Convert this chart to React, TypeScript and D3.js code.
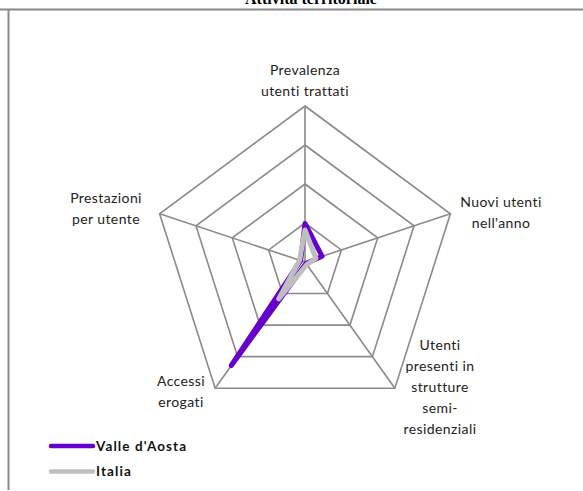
import React from "react";
import * as d3 from "d3";

const axes: string[][] = [
  ["Prevalenza", "utenti trattati"],
  ["Nuovi utenti", "nell'anno"],
  ["Utenti", "presenti in", "strutture", "semi-", "residenziali"],
  ["Accessi", "erogati"],
  ["Prestazioni", "per utente"],
];
const valleValues = [0.99, 0.47, 0.05, 3.28, 0.12];
const italiaValues = [0.82, 0.3, 0.08, 1.17, 0.15];
const seriesNames = ["Valle d'Aosta", "Italia"];
const gridLevels = [1, 2, 3, 4];
const title = "Attività territoriale";

const W = 583;
const H = 491;
const cx = 305;
const cy = 262;
const R = 156;
const kx = 0.98;

// label anchor centres (x) and first baseline (y)
const labelPos: [number, number][] = [
  [305, 75],
  [501, 207],
  [440, 350],
  [181, 386],
  [106, 203],
];

export default function App() {
  const r = d3.scaleLinear().domain([0, 4]).range([0, R]);
  const angle = d3
    .scaleLinear()
    .domain([0, axes.length])
    .range([0, 2 * Math.PI]);
  const pt = (i: number, v: number): [number, number] => {
    const a = angle(i);
    return [cx + r(v) * Math.sin(a) * kx, cy - r(v) * Math.cos(a)];
  };
  const closed = d3.line().curve(d3.curveLinearClosed);

  const gridColor = "#8a8a8a";
  const font = "Lato, 'Open Sans', sans-serif";

  return (
    <svg
      width={W}
      height={H}
      style={{ position: "absolute", left: 0, top: 0, background: "#fff" }}
    >
      <text
        x={311}
        y={4}
        textAnchor="middle"
        fontFamily="'Liberation Serif', 'Times New Roman', serif"
        fontWeight="bold"
        fontSize={16}
        fill="#000"
      >
        {title}
      </text>
      <line x1={0} x2={W} y1={9.5} y2={9.5} stroke="#888" strokeWidth={2} />
      <line x1={8.5} x2={8.5} y1={9} y2={490} stroke="#888" strokeWidth={2} />

      {gridLevels.map((lv) => (
        <path
          key={lv}
          d={closed(axes.map((_, i) => pt(i, lv))) || ""}
          fill="none"
          stroke={gridColor}
          strokeWidth={1.6}
        />
      ))}
      {axes.map((_, i) => {
        const [x, y] = pt(i, 4);
        return (
          <line
            key={i}
            x1={cx}
            y1={cy}
            x2={x}
            y2={y}
            stroke={gridColor}
            strokeWidth={1.6}
          />
        );
      })}

      <path
        d={closed(valleValues.map((v, i) => pt(i, v))) || ""}
        fill="none"
        stroke="#6600CC"
        strokeWidth={5}
        strokeLinejoin="round"
        strokeLinecap="round"
      />
      <path
        d={closed(italiaValues.map((v, i) => pt(i, v))) || ""}
        fill="none"
        stroke="#BFBFBF"
        strokeWidth={5}
        strokeLinejoin="round"
        strokeLinecap="round"
      />

      {axes.map((lines, i) => (
        <text
          key={i}
          x={labelPos[i][0]}
          y={labelPos[i][1]}
          textAnchor="middle"
          fontFamily={font}
          fontSize={14}
          letterSpacing={0.4}
          fill="#222"
        >
          {lines.map((l, j) => (
            <tspan key={j} x={labelPos[i][0]} dy={j === 0 ? 0 : 21}>
              {l}
            </tspan>
          ))}
        </text>
      ))}

      {seriesNames.map((name, i) => (
        <g key={name} transform={`translate(0, ${446 + i * 25.5})`}>
          <line
            x1={51}
            x2={93}
            y1={0}
            y2={0}
            stroke={i === 0 ? "#6600CC" : "#BFBFBF"}
            strokeWidth={4.5}
            strokeLinecap="round"
          />
          <text
            x={96}
            y={4.5}
            fontFamily={font}
            fontWeight="bold"
            fontSize={13.5}
            letterSpacing={1.1}
            fill="#111"
          >
            {name}
          </text>
        </g>
      ))}
    </svg>
  );
}
